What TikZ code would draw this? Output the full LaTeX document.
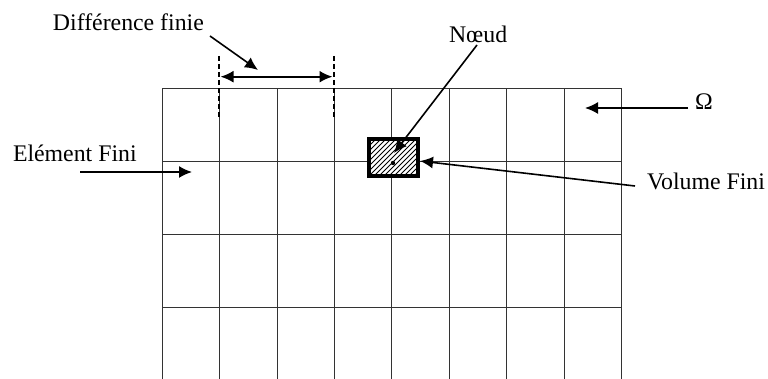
\documentclass[tikz,border=0pt]{standalone}
\usepackage{fontspec}
\setmainfont{Liberation Serif}
\usetikzlibrary{arrows.meta}
\begin{document}
\begin{tikzpicture}[x=0.5pt,y=-0.5pt,
  lbl/.style={inner sep=0pt,outer sep=0pt,anchor=base west,font=\fontsize{11.9}{13}\selectfont},
  gridline/.style={line width=0.55pt,black!80},
  conn/.style={line width=0.8pt,-{Latex[length=6.5pt,width=6pt]}},
  dimline/.style={line width=1pt,{Latex[length=6.5pt,width=6pt]}-{Latex[length=6.5pt,width=6pt]}},
  dashline/.style={line width=1pt,dash pattern=on 2.5pt off 1.5pt}]
\useasboundingbox (0,0) rectangle (768,379);
% grid
\foreach \x in {162.5,219.5,277.5,334.5,391.5,449.5,506.5,564.5,621.5} {
  \draw[gridline] (\x,88.5) -- (\x,379);
}
\foreach \y in {88.5,161.5,234.5,307.5} {
  \draw[gridline] (162.5,\y) -- (621.5,\y);
}
% finite volume box
\node[draw=black,line width=2pt,fill=white,minimum width=24.5pt,minimum height=18.5pt,inner sep=0pt] (vol) at (393.5,157.5) {};
\begin{scope}
  \clip (369,139) rectangle (418,176);
  \foreach \k in {-60,-55,...,60} {
    \draw[line width=0.45pt] ({369+\k},176) -- ({369+\k+60},116);
  }
\end{scope}
\node[draw=black,line width=2pt,minimum width=24.5pt,minimum height=18.5pt,inner sep=0pt] at (393.5,157.5) {};
\fill (393,163) circle (2.2);
\coordinate (nodept) at (394,153);
% labels
\node[lbl] (diff) at (53,31) {Différence finie};
\node[lbl] (noeud) at (449,43) {Nœud};
\node[lbl] (elem) at (13,162) {Elément Fini};
\node[lbl] (volf) at (647,190) {Volume Fini};
\node[lbl] (omega) at (695,110) {Ω};
% dashed markers
\coordinate (dla) at (219,56);
\coordinate (dlb) at (219,120);
\coordinate (dra) at (333.5,56);
\coordinate (drb) at (333.5,120);
\draw[dashline] (dla) -- (dlb);
\draw[dashline] (dra) -- (drb);
\coordinate (dl) at (220.5,76.7);
\coordinate (dr) at (332.5,76.7);
\draw[dimline] (dl) -- (dr);
% connectors
\coordinate (diffs) at (210,36);
\coordinate (difft) at (258,70);
\draw[conn] (diffs) -- (difft);
\coordinate (noeuds) at (477,45);
\draw[conn] (noeuds) -- (nodept);
\coordinate (elems) at (80,172);
\coordinate (elemt) at (192,172);
\draw[conn] (elems) -- (elemt);
\coordinate (vols) at (635,186);
\draw[conn] (vols) -- (vol.east |- 0,161);
\coordinate (omegas) at (688,108);
\coordinate (omegat) at (585,108);
\draw[conn] (omegas) -- (omegat);
\end{tikzpicture}
\end{document}
